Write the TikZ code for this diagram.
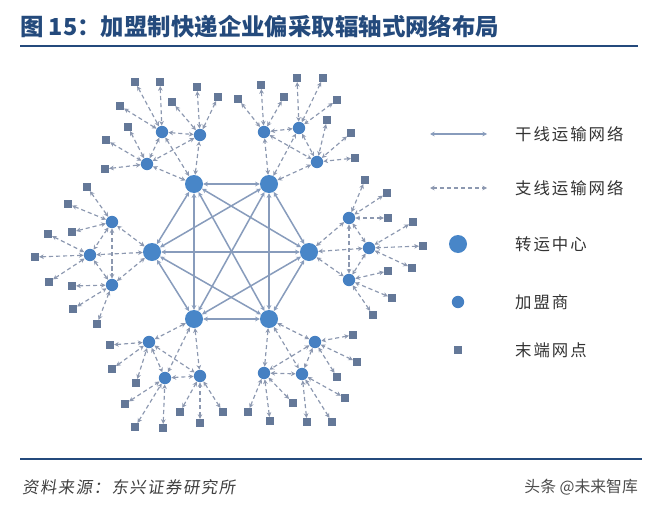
\documentclass[tikz,border=0pt]{standalone}
\usepackage{fontspec}
\newfontfamily\cjk{Noto Sans CJK SC}
\newfontfamily\cjkwide[LetterSpace=12]{Noto Sans CJK SC}
\newfontfamily\cjkslant[FakeSlant=0.15, LetterSpace=9]{Noto Sans CJK SC}
\usepackage{xcolor}
\usetikzlibrary{arrows.meta}
\definecolor{titleblue}{RGB}{36,74,124}
\definecolor{hubblue}{RGB}{72,134,200}
\definecolor{franblue}{RGB}{70,128,194}
\definecolor{outletgray}{RGB}{100,120,152}
\definecolor{trunkcol}{RGB}{136,156,188}
\definecolor{branchcol}{RGB}{140,152,176}

\begin{document}
\begin{tikzpicture}[x=0.03cm, y=-0.03cm,
    hub/.style={circle, fill=hubblue, minimum size=0.54cm, inner sep=0pt},
    fran/.style={circle, fill=franblue, minimum size=0.37cm, inner sep=0pt},
    outlet/.style={rectangle, fill=outletgray, minimum size=0.23cm, inner sep=0pt},
    trunk/.style={{Stealth[length=4pt,width=4pt]}-{Stealth[length=4pt,width=4pt]},
                  line width=1.3pt, draw=trunkcol},
    branch/.style={{Stealth[length=4pt,width=4pt]}-{Stealth[length=4pt,width=4pt]},
                   line width=1pt, draw=branchcol, dash pattern=on 3.5pt off 2.5pt},
    legtext/.style={anchor=west, font=\cjkwide\fontsize{14}{16}\selectfont, text=black!80}
]
\useasboundingbox (0,0) rectangle (650,507);

% 标题
\node[anchor=west, font=\cjk\bfseries\fontsize{20}{22}\selectfont, text=titleblue]
    (title) at (16,27) {图 15：加盟制快递企业偏采取辐轴式网络布局};
\draw[titleblue, line width=2.2pt] (20,46) -- (638,46);

% 转运中心
\foreach \c/\x/\y in {TL/194/184, TR/269/184, L/152/252, R/309/252, BL/194/319, BR/269/319}
    \node[hub] (hub\c) at (\x,\y) {};

% 加盟商
\foreach \f/\x/\y in {TL1/162/132, TL2/200/135, TL3/147/164,
                      TR1/264/132, TR2/299/128, TR3/317/162,
                      L1/112/222,  L2/90/255,   L3/112/285,
                      R1/349/218,  R2/369/248,  R3/349/280,
                      BL1/149/342, BL2/165/378, BL3/200/376,
                      BR1/315/342, BR2/264/373, BR3/302/374}
    \node[fran] (f\f) at (\x,\y) {};

% 干线
\foreach \a/\b in {TL/TR, TL/L, TL/R, TL/BL, TL/BR, TR/L, TR/R, TR/BL, TR/BR,
                   L/R, L/BL, L/BR, R/BL, R/BR, BL/BR}
    \draw[trunk] (hub\a) -- (hub\b);

% 支线：转运中心 - 加盟商
\foreach \c in {TL, TR, L, R, BL, BR} {
    \draw[branch] (hub\c) -- (f\c1);
    \draw[branch] (hub\c) -- (f\c2);
    \draw[branch] (hub\c) -- (f\c3);
    \draw[branch] (f\c1) -- (f\c2);
    \draw[branch] (f\c2) -- (f\c3);
    \draw[branch] (f\c1) -- (f\c3);
}

% 末端网点
\foreach \f/\x/\y/\k in {TL1/135/82/1, TL1/160/82/2, TL1/120/106/3,
                         TL2/197/87/1, TL2/218/97/2, TL2/172/102/3,
                         TL3/128/127/1, TL3/106/140/2, TL3/105/169/3,
                         TR1/238/99/1, TR1/261/85/2, TR1/284/97/3,
                         TR2/297/78/1, TR2/323/78/2, TR2/337/100/3,
                         TR3/327/120/1, TR3/351/133/2, TR3/355/158/3,
                         L1/87/187/1, L1/68/204/2, L1/72/232/3,
                         L2/48/234/1, L2/35/257/2, L2/49/282/3,
                         L3/72/286/1, L3/73/309/2, L3/97/324/3,
                         R1/365/180/1, R1/387/193/2, R1/388/218/3,
                         R2/413/222/1, R2/423/246/2, R2/412/268/3,
                         R3/388/271/1, R3/392/298/2, R3/373/315/3,
                         BL1/110/345/1, BL1/112/369/2, BL1/136/383/3,
                         BL2/125/404/1, BL2/135/427/2, BL2/163/428/3,
                         BL3/180/412/1, BL3/200/423/2, BL3/223/412/3,
                         BR1/353/335/1, BR1/357/362/2, BR1/337/377/3,
                         BR2/248/412/1, BR2/270/421/2, BR2/293/403/3,
                         BR3/307/422/1, BR3/332/422/2, BR3/345/398/3} {
    \node[outlet] (t\f\k) at (\x,\y) {};
    \draw[branch] (t\f\k) -- (f\f);
}

% 图例
\coordinate (lgTa) at (430,134);
\coordinate (lgTb) at (487,134);
\coordinate (lgBa) at (430,188);
\coordinate (lgBb) at (487,188);
\draw[trunk] (lgTa) -- (lgTb);
\draw[branch] (lgBa) -- (lgBb);
\node[hub]    (lgHub)  at (458,244) {};
\node[fran]   (lgFran) at (458,302) {};
\node[outlet] (lgOut)  at (458,350) {};
\node[legtext] (lgT1) at (511,134) {干线运输网络};
\node[legtext] (lgT2) at (511,188) {支线运输网络};
\node[legtext] (lgT3) at (511,244) {转运中心};
\node[legtext] (lgT4) at (511,302) {加盟商};
\node[legtext] (lgT5) at (511,350) {末端网点};

% 资料来源
\draw[titleblue, line width=1.8pt] (20,459) -- (642,459);
\node[anchor=west, font=\cjkslant\fontsize{14}{16}\selectfont, text=black!75]
    (source) at (18,487) {资料来源：东兴证券研究所};
\node[anchor=east, font=\cjk\fontsize{13.5}{16}\selectfont, text=black!70]
    (mark) at (642,487) {头条 @未来智库};
\end{tikzpicture}
\end{document}
